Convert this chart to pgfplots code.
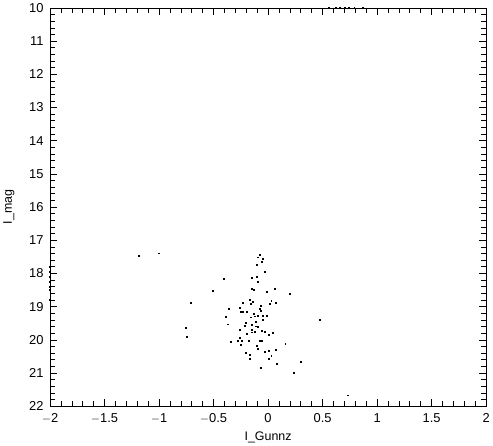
\documentclass[border=0pt]{standalone}
\usepackage{pgfplots}
\pgfplotsset{compat=1.18}
\usepackage{fontspec}
\setmainfont{Liberation Sans}
\usetikzlibrary{calc}
\begin{document}
\begin{tikzpicture}
\begin{axis}[
  name=ax,
  scale only axis,
  width=439pt, height=401pt,
  xmin=-2, xmax=2, ymin=10, ymax=22,
  y dir=reverse,
  clip=false,
  axis line style={line width=0.7pt},
  tick align=inside,
  xtick={-2,-1.5,...,2},
  ytick={10,11,...,22},
  minor x tick num=4,
  minor y tick num=4,
  major tick length=7pt,
  minor tick length=5pt,
  every tick/.style={black, line width=0.6pt},
  xticklabels={$-$2,$-$1.5,$-$1,$-$0.5,0,0.5,1,1.5,2},
  /pgf/number format/assume math mode=true,
  ticklabel style={font=\fontsize{13}{13}\selectfont},
  xticklabel style={yshift=-4pt},
  yticklabel style={xshift=-3pt},
  xlabel={I\_Gunnz}, ylabel={I\_mag},
  label style={font=\fontsize{12.5}{12.5}\selectfont},
  xlabel style={yshift=-1pt},
  ylabel style={yshift=8pt},
]
\addplot[only marks, mark=square*, mark size=0.45pt, black] coordinates {
(-1.186,17.47) (-1.007,17.39) (-0.077,17.44) (-0.098,17.51) (-0.050,17.56)
(-0.062,17.66) (-0.108,17.74) (-0.035,17.95) (-0.108,18.11) (-0.148,18.14)
(-0.093,18.26) (-0.405,18.17) (-0.153,18.46) (-0.132,18.48) (0.059,18.46)
(-0.014,18.56) (-0.512,18.53) (0.202,18.62) (-0.706,18.89) (-0.171,18.79)
(-0.139,18.85) (-0.232,18.87) (-0.159,18.92) (0.029,18.81) (0.011,18.92)
(0.068,18.89) (-0.071,18.96) (-0.080,19.06) (-0.068,19.12) (-0.360,19.06)
(-0.260,19.04) (-0.253,19.16) (-0.232,19.14) (-0.199,19.16) (-0.135,19.20)
(-0.098,19.26) (-0.123,19.29) (-0.159,19.32) (-0.053,19.27) (-0.014,19.26)
(-0.390,19.30) (-0.053,19.40) (0.476,19.40) (-0.117,19.45) (-0.202,19.48)
(-0.211,19.57) (-0.369,19.53) (-0.148,19.54) (-0.117,19.59) (-0.093,19.61)
(-0.754,19.63) (-0.262,19.69) (-0.148,19.70) (-0.123,19.76) (-0.153,19.77)
(-0.062,19.72) (-0.029,19.76) (0.007,19.84) (0.044,19.79) (-0.196,19.82)
(-0.749,19.90) (-0.257,19.94) (-0.244,20.02) (-0.281,20.03) (-0.342,20.06)
(-0.178,20.02) (-0.077,20.02) (-0.059,20.03) (0.157,20.11) (-0.251,20.14)
(-0.108,20.18) (-0.093,20.27) (0.066,20.29) (0.007,20.33) (-0.029,20.35)
(-0.208,20.40) (-0.169,20.45) (-0.166,20.56) (0.029,20.47) (0.007,20.57)
(0.075,20.71) (0.303,20.66) (-0.066,20.85) (0.235,20.98) (0.733,21.67)
(-2.005,17.80) (-2.005,17.95) (-2.005,18.10) (-2.005,18.25) (-2.005,18.40)
(-2.005,18.50) (-2.005,18.79)
(0.56,10.0) (0.62,10.0) (0.66,10.0) (0.70,10.0)
(0.74,10.0) (0.79,10.0) (0.87,10.0)
};
\end{axis}
\useasboundingbox ($(ax.south west)+(-50pt,-38pt)$) rectangle ($(ax.north east)+(4pt,4pt)$);
\end{tikzpicture}
\end{document}
